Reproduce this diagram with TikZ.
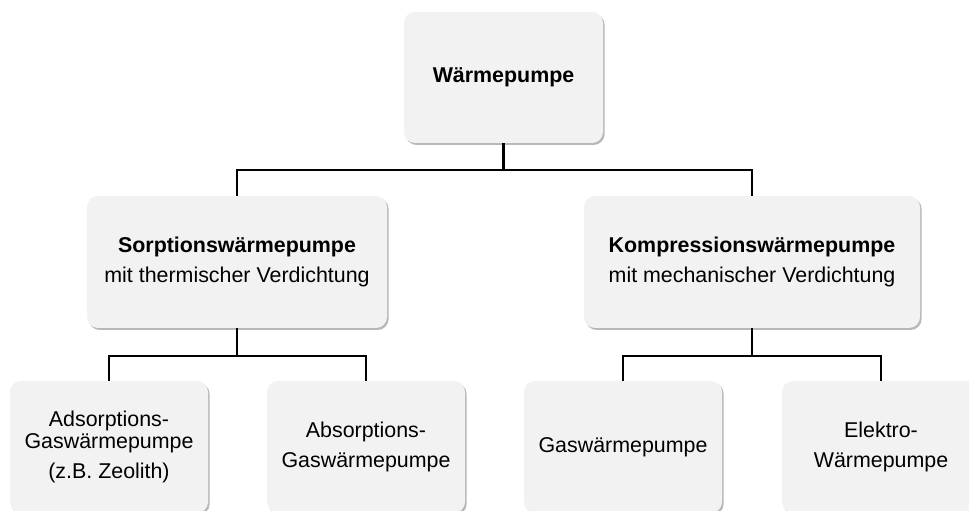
\documentclass[tikz,border=0pt]{standalone}
\usepackage{fontspec}
\setmainfont{Liberation Sans}
\usetikzlibrary{shadows}
\definecolor{boxfill}{HTML}{F2F2F2}
\begin{document}
\begin{tikzpicture}[x=1pt,y=1pt,
  box/.style={draw=none, fill=boxfill, rounded corners=11pt, align=center,
    inner sep=0pt, font=\fontsize{21.4}{30.5}\selectfont,
    drop shadow={shadow xshift=1.6pt, shadow yshift=-2pt, fill=black, opacity=0.28}},
  conn/.style={draw=black, line width=2.4pt}]
\clip (0,0) rectangle (969,511);
\fill[white] (0,0) rectangle (969,511);
\node[box, minimum width=199pt, minimum height=131pt] (top) at (503.5,433.5) {\textbf{Wärmepumpe}};
\node[box, minimum width=300pt, minimum height=132pt] (sorp) at (237,249) {\textbf{Sorptionswärmepumpe}\\mit thermischer Verdichtung};
\node[box, minimum width=336pt, minimum height=132pt] (komp) at (752,249) {\textbf{Kompressionswärmepumpe}\\mit mechanischer Verdichtung};
\node[box, minimum width=198pt, minimum height=132pt] (ads) at (109,64) {Adsorptions-\\[-8.5pt]Gaswärmepumpe\\(z.B. Zeolith)};
\node[box, minimum width=198pt, minimum height=132pt] (abs) at (366,64) {Absorptions-\\Gaswärmepumpe};
\node[box, minimum width=198pt, minimum height=132pt] (gas) at (623,64) {Gaswärmepumpe};
\node[box, minimum width=198pt, minimum height=132pt] (elek) at (881,64) {Elektro-\\Wärmepumpe};
\coordinate (j1) at (503.5,341);
\coordinate (j2) at (237,155);
\coordinate (j3) at (752,155);
\draw[conn] (top.south) -- (j1);
\draw[conn] (sorp.north) |- (j1) -| (komp.north);
\draw[conn] (sorp.south) -- (j2);
\draw[conn] (ads.north) |- (j2) -| (abs.north);
\draw[conn] (komp.south) -- (j3);
\draw[conn] (gas.north) |- (j3) -| (elek.north);
\end{tikzpicture}
\end{document}
